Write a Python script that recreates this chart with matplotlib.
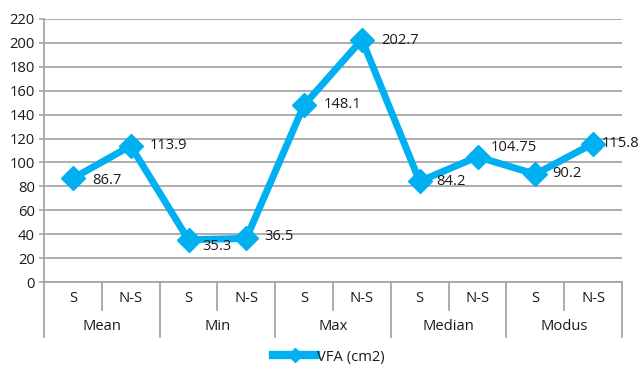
import matplotlib
matplotlib.use("Agg")
import matplotlib.pyplot as plt
from matplotlib.lines import Line2D

plt.rcParams['font.family'] = ['Open Sans', 'DejaVu Sans']

groups = ["Mean", "Min", "Max", "Median", "Modus"]
subs = ["S", "N-S"]
vfa = [86.7, 113.9, 35.3, 36.5, 148.1, 202.7, 84.2, 104.75, 90.2, 115.8]
labels = ["86.7", "113.9", "35.3", "36.5", "148.1", "202.7", "84.2", "104.75", "90.2", "115.8"]

# label offsets from each point, in points (right, up)
label_dx = [13.7, 13.7, 10.0, 13.0, 14.4, 13.7, 12.2, 9.4, 12.2, 6.5]
label_dy = [-1.4, 0.0, -5.0, 1.4, 0.0, -0.7, 0.0, 6.5, 0.7, 0.0]

W, H = 644, 368
fig = plt.figure(figsize=(W / 100, H / 100), dpi=100)
ax = fig.add_axes([44 / W, (H - 282) / H, (622 - 44) / W, (282 - 19) / H])

blue = "#00B0F0"
grid = "#A6A6A6"
txt = "#1a1a1a"
fs = 10.6

x = list(range(len(vfa)))
ax.plot(x, vfa, color=blue, lw=5, marker="D", ms=12, mfc=blue, mec=blue,
        solid_joinstyle="miter", zorder=3, clip_on=False)
for xi, v, s, dx, dy in zip(x, vfa, labels, label_dx, label_dy):
    ax.annotate(s, (xi, v), xytext=(dx, dy), textcoords="offset points",
                ha="left", va="center", fontsize=fs, color=txt, zorder=4)

ax.set_xlim(-0.5, len(vfa) - 0.5)
ax.set_ylim(0, 220)
ax.set_yticks(range(0, 221, 20))
ax.tick_params(axis="y", length=3.5, width=1.2, color=grid, labelsize=fs,
               labelcolor=txt, pad=3)
ax.set_xticks([])
ax.yaxis.grid(True, color=grid, lw=1.3)
ax.set_axisbelow(True)
for side in ("top", "right"):
    ax.spines[side].set_visible(False)
for side in ("left", "bottom"):
    ax.spines[side].set_color(grid)
    ax.spines[side].set_linewidth(1.3)

# two-level category axis
trans = ax.get_xaxis_transform()
ax_h = 282 - 19
def yax(px):
    return (282 - px) / ax_h

for i in range(len(vfa) + 1):
    xe = i - 0.5
    bottom = 337 if i % 2 == 0 else 310
    ax.plot([xe, xe], [0, yax(bottom)], transform=trans, color=grid, lw=1.3,
            clip_on=False)
for i, xi in enumerate(x):
    ax.text(xi, yax(299), subs[i % 2], transform=trans, ha="center",
            va="center", fontsize=fs, color=txt)
for g, name in enumerate(groups):
    ax.text(2 * g + 0.5, yax(326), name, transform=trans, ha="center",
            va="center", fontsize=fs, color=txt)

handle = Line2D([], [], color=blue, lw=6, marker="D", ms=7, mfc=blue, mec=blue)
fig.legend([handle], ["VFA (cm2)"], loc="center", bbox_to_anchor=(329 / W, 1 - 357 / H),
           frameon=False, fontsize=fs, handlelength=2.9, handletextpad=0.05,
           labelcolor=txt)

fig.savefig("out.png", dpi=100)
